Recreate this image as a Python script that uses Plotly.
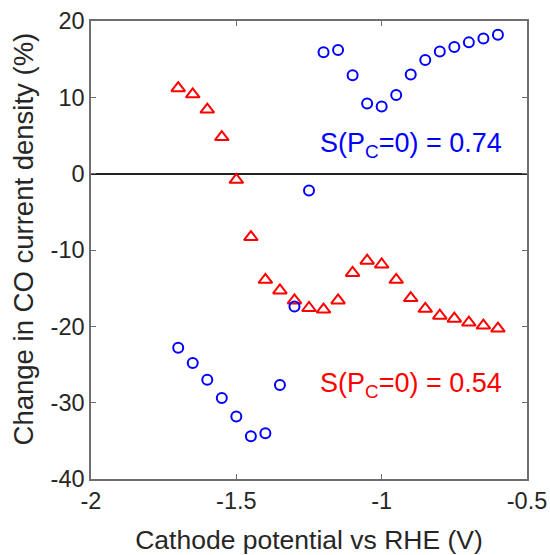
import plotly.graph_objects as go

potential = [-1.70, -1.65, -1.60, -1.55, -1.50, -1.45, -1.40, -1.35, -1.30, -1.25, -1.20, -1.15,
             -1.10, -1.05, -1.00, -0.95, -0.90, -0.85, -0.80, -0.75, -0.70, -0.65, -0.60]
blue_change = [-22.8, -24.8, -27.0, -29.4, -31.8, -34.4, -34.0, -27.7, -17.4, -2.2, 15.9, 16.2,
               12.9, 9.2, 8.8, 10.3, 13.0, 14.9, 16.0, 16.6, 17.2, 17.7, 18.2]
red_change = [11.2, 10.4, 8.4, 4.8, -0.8, -8.3, -13.9, -15.3, -16.6, -17.6, -17.8, -16.6,
              -13.0, -11.4, -11.9, -13.9, -16.3, -17.7, -18.6, -19.0, -19.5, -19.9, -20.3]
x_ticks = [-2, -1.5, -1, -0.5]
x_tick_labels = ["-2", "-1.5", "-1", "-0.5"]
y_ticks = [-40, -30, -20, -10, 0, 10, 20]
y_tick_labels = ["-40", "-30", "-20", "-10", "0", "10", "20"]
label_blue = "S(P<sub>C</sub>=0) = 0.74"
label_red = "S(P<sub>C</sub>=0) = 0.54"
x_title = "Cathode potential vs RHE (V)"
y_title = "Change in CO current density (%)"

FONT = "Liberation Sans, Arial, sans-serif"
TXT = "#262626"
AX = "#6e6e6e"

fig = go.Figure()
fig.add_trace(go.Scatter(
    x=potential, y=red_change, mode="markers",
    marker=dict(symbol="triangle-up-open", size=12, color="#ff0000", line=dict(width=2, color="#ff0000")),
    showlegend=False))
fig.add_trace(go.Scatter(
    x=potential, y=blue_change, mode="markers",
    marker=dict(symbol="circle-open", size=10, color="#0000ff", line=dict(width=2, color="#0000ff")),
    showlegend=False))

fig.add_annotation(x=-0.58, y=3.7, xref="x", yref="y", text=label_blue, showarrow=False,
                   xanchor="right", yanchor="middle", font=dict(family=FONT, size=27, color="#0000ff"))
fig.add_annotation(x=-0.58, y=-27.7, xref="x", yref="y", text=label_red, showarrow=False,
                   xanchor="right", yanchor="middle", font=dict(family=FONT, size=27, color="#ff0000"))
fig.add_annotation(x=-0.155, y=0.524, xref="paper", yref="paper", text=y_title, showarrow=False,
                   textangle=-90, xanchor="center", yanchor="middle",
                   font=dict(family=FONT, size=27.5, color=TXT))

fig.update_layout(
    width=550, height=555,
    margin=dict(l=91, r=23, t=21, b=76, autoexpand=False),
    paper_bgcolor="white", plot_bgcolor="white",
    font=dict(family=FONT, size=23.5, color=TXT),
)
fig.update_xaxes(
    range=[-2, -0.5], tickvals=x_ticks, ticktext=x_tick_labels,
    showgrid=False, zeroline=False, automargin=False, ticklabeloverflow="allow",
    showline=True, linecolor=AX, linewidth=1.5, mirror="ticks",
    ticks="inside", ticklen=5, tickcolor=AX, tickwidth=1.2,
    tickfont=dict(family=FONT, size=23.5, color=TXT),
    title=dict(text=x_title, font=dict(family=FONT, size=26.5, color=TXT), standoff=20),
)
fig.update_yaxes(
    range=[-40, 20], tickvals=y_ticks, ticktext=y_tick_labels,
    showgrid=False, zeroline=True, zerolinecolor="#222222", zerolinewidth=1.5, automargin=False,
    showline=True, linecolor=AX, linewidth=1.5, mirror="ticks",
    ticks="inside", ticklen=5, tickcolor=AX, tickwidth=1.2,
    tickfont=dict(family=FONT, size=23.5, color=TXT),
)

fig.write_html("out.html", config={"displayModeBar": False},
               post_script="document.body.style.margin='0';")
